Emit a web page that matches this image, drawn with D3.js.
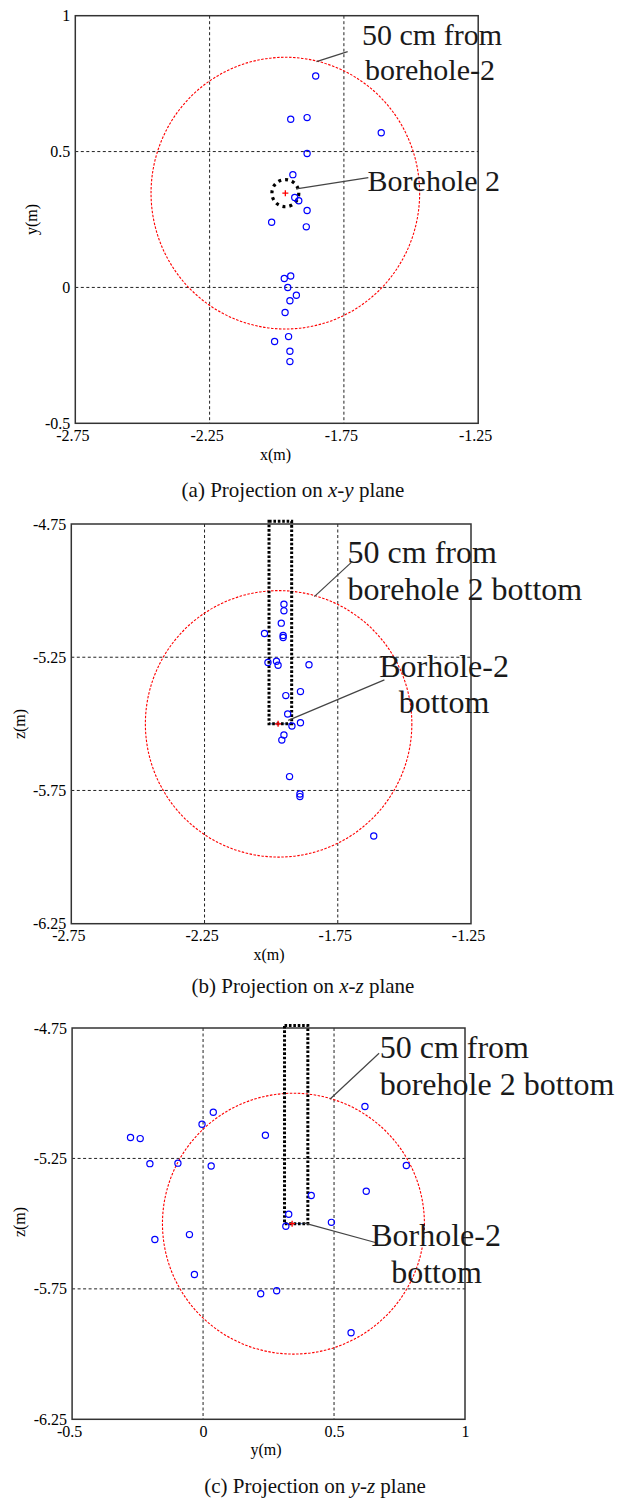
<!DOCTYPE html>
<html><head><meta charset="utf-8">
<script src="https://cdn.jsdelivr.net/npm/d3@7"></script>
<style>
body{margin:0;background:#fff}
</style>
</head><body>
<svg id="chart" width="628" height="1499" font-family="'Liberation Serif', 'Times New Roman', Tinos, 'DejaVu Serif', serif"></svg>
<script>
// ---------------- data ----------------
const xyTicksX = [-2.75, -2.25, -1.75, -1.25];
const xyTicksY = [-0.5, 0, 0.5, 1];
const xzTicksX = [-2.75, -2.25, -1.75, -1.25];
const xzTicksZ = [-6.25, -5.75, -5.25, -4.75];
const yzTicksY = [-0.5, 0, 0.5, 1];
const yzTicksZ = [-6.25, -5.75, -5.25, -4.75];

// event locations read from the projections (m)
const xyEvents = [
  [-1.855, 0.778], [-1.948, 0.619], [-1.887, 0.625], [-1.611, 0.569], [-1.887, 0.493],
  [-1.940, 0.415], [-1.933, 0.331], [-1.918, 0.319], [-1.887, 0.283], [-2.019, 0.240],
  [-1.890, 0.223], [-1.948, 0.042], [-1.972, 0.033], [-1.959, 0.000], [-1.927, -0.029],
  [-1.951, -0.049], [-1.969, -0.092], [-1.956, -0.181], [-2.008, -0.199], [-1.951, -0.235],
  [-1.951, -0.273]
];
const xzEvents = [
  [-1.952, -5.051], [-1.952, -5.076], [-1.962, -5.122], [-2.025, -5.161], [-1.955, -5.168],
  [-1.955, -5.176], [-2.012, -5.270], [-1.980, -5.265], [-1.974, -5.280], [-1.858, -5.278],
  [-1.890, -5.379], [-1.945, -5.394], [-1.938, -5.463], [-1.890, -5.496], [-1.922, -5.508],
  [-1.952, -5.542], [-1.960, -5.561], [-1.931, -5.698], [-1.892, -5.763], [-1.892, -5.773],
  [-1.615, -5.921]
];
const yzEvents = [
  [0.618, -5.051], [0.039, -5.073], [-0.004, -5.119], [0.238, -5.161], [-0.277, -5.170],
  [-0.240, -5.174], [-0.096, -5.268], [-0.203, -5.270], [0.776, -5.277], [0.031, -5.279],
  [0.623, -5.376], [0.413, -5.392], [0.327, -5.464], [0.490, -5.495], [0.316, -5.510],
  [-0.052, -5.542], [-0.184, -5.561], [-0.033, -5.695], [0.281, -5.757], [0.220, -5.769],
  [0.565, -5.918]
];

// borehole 2 (centre of 50 cm sphere), per projection
const boreholeXY = [-1.968, 0.347];
const boreholeXZ = [-1.972, -5.5];
const boreholeYZ = [0.345, -5.5];
const boreholeRadius = 0.05;            // dotted circle in x-y view
const sphereRadius = 0.5;               // 50 cm
const holeXZ = [-2.008, -1.923, -5.5, -4.74]; // x0, x1, zBottom, zTop
const holeYZ = [0.311, 0.400, -5.5, -4.74];

// ---------------- drawing ----------------
const FONT = "'Liberation Serif', 'Times New Roman', Tinos, 'DejaVu Serif', serif";
const svg = d3.select("#chart");

function panel(cfg) {
  const g = svg.append("g").attr("font-family", FONT);
  const sx = d3.scaleLinear().domain(cfg.xDomain).range([cfg.left, cfg.right]);
  const sy = d3.scaleLinear().domain(cfg.yDomain).range([cfg.bottom, cfg.top]);

  // grid
  g.selectAll("line.gx").data(cfg.xTicks.slice(1, -1)).join("line")
    .attr("x1", d => sx(d)).attr("x2", d => sx(d))
    .attr("y1", cfg.top).attr("y2", cfg.bottom)
    .attr("stroke", "#222").attr("stroke-width", 1).attr("stroke-dasharray", "3,2.5");
  g.selectAll("line.gy").data(cfg.yTicks.slice(1, -1)).join("line")
    .attr("y1", d => sy(d)).attr("y2", d => sy(d))
    .attr("x1", cfg.left).attr("x2", cfg.right)
    .attr("stroke", "#222").attr("stroke-width", 1).attr("stroke-dasharray", "3,2.5");

  // frame
  g.append("rect").attr("x", cfg.left).attr("y", cfg.top)
    .attr("width", cfg.right - cfg.left).attr("height", cfg.bottom - cfg.top)
    .attr("fill", "none").attr("stroke", "#333").attr("stroke-width", 1.5);

  // axes (labels only)
  const fmt = d => String(d);
  const ax = g.append("g").attr("transform", `translate(0,${cfg.bottom})`)
    .call(d3.axisBottom(sx).tickValues(cfg.xTicks).tickSize(0).tickPadding(6).tickFormat(fmt));
  const ay = g.append("g").attr("transform", `translate(${cfg.left},0)`)
    .call(d3.axisLeft(sy).tickValues(cfg.yTicks).tickSize(0).tickPadding(5).tickFormat(fmt));
  [ax, ay].forEach(a => {
    a.select(".domain").remove();
    a.attr("font-family", FONT).attr("font-size", 16);
    a.selectAll("text").attr("font-family", FONT).attr("font-size", 16).attr("fill", "#000");
  });
  ax.selectAll("text").attr("dx", d => d < 0 ? -3 : 0);

  // 50 cm sphere
  const [cx, cy] = cfg.center;
  g.append("ellipse")
    .attr("cx", sx(cx)).attr("cy", sy(cy))
    .attr("rx", Math.abs(sx(cx + sphereRadius) - sx(cx)))
    .attr("ry", Math.abs(sy(cy + sphereRadius) - sy(cy)))
    .attr("fill", "none").attr("stroke", "#ff0000").attr("stroke-width", 1.1)
    .attr("stroke-dasharray", "2.5,1.5");

  // borehole
  if (cfg.hole) {
    const [h0, h1, hb, ht] = cfg.hole;
    g.append("line").attr("x1", sx(h0)).attr("x2", sx(h1))
      .attr("y1", sy(hb)).attr("y2", sy(hb))
      .attr("stroke", "#4a70b8").attr("stroke-width", 1);
    g.append("rect").attr("x", sx(h0)).attr("y", sy(ht))
      .attr("width", sx(h1) - sx(h0)).attr("height", sy(hb) - sy(ht))
      .attr("fill", "none").attr("stroke", "#000").attr("stroke-width", 3)
      .attr("stroke-dasharray", "2.6,1.8");
  } else {
    g.append("ellipse").attr("cx", sx(cx)).attr("cy", sy(cy))
      .attr("rx", Math.abs(sx(cx + boreholeRadius) - sx(cx)))
      .attr("ry", Math.abs(sy(cy + boreholeRadius) - sy(cy)))
      .attr("fill", "none").attr("stroke", "#000").attr("stroke-width", 3.2)
      .attr("stroke-dasharray", "3,4");
  }

  // events
  g.selectAll("circle.ev").data(cfg.events).join("circle")
    .attr("cx", d => sx(d[0])).attr("cy", d => sy(d[1])).attr("r", 3.1)
    .attr("fill", "none").attr("stroke", "#0000ff").attr("stroke-width", 1.2);

  // red plus at borehole
  const px = sx(cfg.plus[0]), py = sy(cfg.plus[1]);
  g.append("path").attr("d", `M${px - 3},${py}H${px + 3}M${px},${py - 3}V${py + 3}`)
    .attr("stroke", "#ff0000").attr("stroke-width", 1.3);

  // leaders
  g.selectAll("line.ld").data(cfg.leaders).join("line")
    .attr("x1", d => sx(d[0])).attr("y1", d => sy(d[1]))
    .attr("x2", d => sx(d[2])).attr("y2", d => sy(d[3]))
    .attr("stroke", "#444").attr("stroke-width", 1.2);

  // annotation texts
  g.selectAll("text.an").data(cfg.notes).join("text")
    .attr("x", d => d.x).attr("y", d => d.y)
    .attr("text-anchor", d => d.anchor || "start")
    .attr("font-family", FONT)
    .attr("font-size", cfg.noteSize).attr("fill", "#1a1a1a")
    .text(d => d.t);

  // axis titles
  g.append("text").attr("transform", `translate(${cfg.yTitle[1]},${cfg.yTitle[2]}) rotate(-90)`)
    .attr("font-family", FONT)
    .attr("text-anchor", "middle").attr("dy", "0.32em").attr("font-size", 16).text(cfg.yTitle[0]);
  g.append("text").attr("x", cfg.xTitle[1]).attr("y", cfg.xTitle[2])
    .attr("font-family", FONT)
    .attr("text-anchor", "middle").attr("dy", "0.3em").attr("font-size", 16).text(cfg.xTitle[0]);

  // caption
  const cap = g.append("text").attr("x", cfg.caption.x).attr("y", cfg.caption.y)
    .attr("font-family", FONT)
    .attr("text-anchor", "middle").attr("font-size", 21).attr("fill", "#111");
  cap.append("tspan").text(cfg.caption.pre + " Projection on ");
  cap.append("tspan").attr("font-style", "italic").text(cfg.caption.a);
  cap.append("tspan").text("-");
  cap.append("tspan").attr("font-style", "italic").text(cfg.caption.b);
  cap.append("tspan").text(" plane");
}

panel({
  left: 75.3, right: 478.2, top: 15.7, bottom: 423.3,
  xDomain: [-2.75, -1.25], yDomain: [-0.5, 1],
  xTicks: xyTicksX, yTicks: xyTicksY,
  events: xyEvents, center: boreholeXY, plus: boreholeXY, hole: null,
  leaders: [[-1.736, 0.868, -1.852, 0.831], [-1.659, 0.404, -1.927, 0.363]],
  noteSize: 30,
  notes: [{t: "50 cm from", x: 362, y: 45}, {t: "borehole-2", x: 365, y: 80}, {t: "Borehole 2", x: 367.6, y: 190.5}],
  yTitle: ["y(m)", 32, 219.5], xTitle: ["x(m)", 275.5, 455],
  caption: {pre: "(a)", a: "x", b: "y", x: 293, y: 497}
});

panel({
  left: 71.3, right: 471, top: 524, bottom: 923.7,
  xDomain: [-2.75, -1.25], yDomain: [-6.25, -4.75],
  xTicks: xzTicksX, yTicks: xzTicksZ,
  events: xzEvents, center: boreholeXZ, plus: [-1.974, -5.5], hole: holeXZ,
  leaders: [[-1.699, -4.894, -1.838, -5.0225], [-1.575, -5.335, -1.936, -5.487]],
  noteSize: 32,
  notes: [{t: "50 cm from", x: 347.6, y: 562.5}, {t: "borehole 2 bottom", x: 347.6, y: 600},
          {t: "Borhole-2", x: 444, y: 676.7, anchor: "middle"}, {t: "bottom", x: 444, y: 713.3, anchor: "middle"}],
  yTitle: ["z(m)", 20, 724], xTitle: ["x(m)", 269, 955],
  caption: {pre: "(b)", a: "x", b: "z", x: 303, y: 993}
});

panel({
  left: 72.1, right: 465, top: 1028, bottom: 1419.3,
  xDomain: [-0.5, 1], yDomain: [-6.25, -4.75],
  xTicks: yzTicksY, yTicks: yzTicksZ,
  events: yzEvents, center: boreholeYZ, plus: [0.340, -5.5], hole: holeYZ,
  leaders: [[0.672, -4.847, 0.484, -5.023], [0.665, -5.574, 0.3845, -5.497]],
  noteSize: 32,
  notes: [{t: "50 cm from", x: 379.7, y: 1058.3}, {t: "borehole 2 bottom", x: 379.7, y: 1095},
          {t: "Borhole-2", x: 436, y: 1246, anchor: "middle"}, {t: "bottom", x: 436.5, y: 1283, anchor: "middle"}],
  yTitle: ["z(m)", 20, 1222], xTitle: ["y(m)", 266, 1450],
  caption: {pre: "(c)", a: "y", b: "z", x: 315, y: 1493}
});
</script>
</body></html>
